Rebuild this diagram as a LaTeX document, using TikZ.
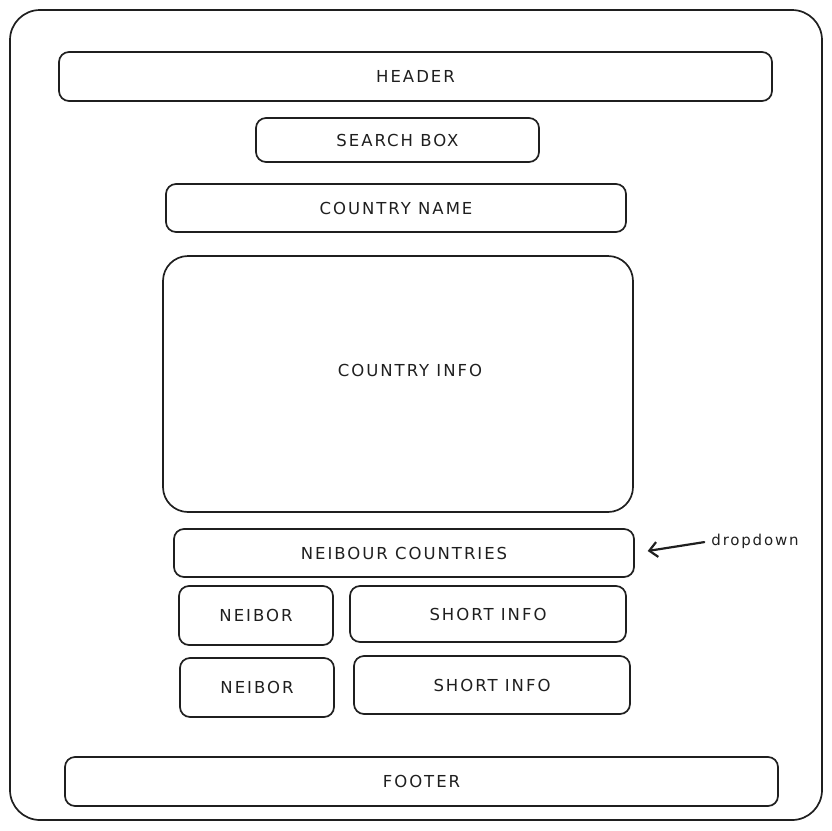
\documentclass[tikz,border=0pt]{standalone}
\usepackage{fontspec}
\setmainfont{DejaVu Sans}[LetterSpace=12]
\usetikzlibrary{arrows.meta,calc}
\begin{document}
\begin{tikzpicture}[x=1pt,y=-1pt,
  box/.style={draw=black!88, line width=1.7pt, rounded corners=10pt, inner sep=0pt,
    font=\fontsize{16.5}{18}\selectfont, text=black!88},
  lbl/.style={font=\fontsize{16.5}{18}\selectfont, text=black!88, inner sep=0pt},
  pointer/.style={draw=black!88, line width=2.2pt, line cap=round,
    -{Straight Barb[length=8pt,width=15pt,line width=2.2pt]}}]
\useasboundingbox (0,0) rectangle (832,830);
\node[box, rounded corners=30pt, minimum width=812pt, minimum height=810pt] (frame) at (416,415) {};
\node[box, minimum width=713pt, minimum height=49pt] (header) at (415.5,76.5) {HEADER};
\node[box, minimum width=283pt, minimum height=44pt] (search) at (397.5,140) {SEARCH BOX};
\node[box, minimum width=460pt, minimum height=48pt] (cname) at (396,208) {COUNTRY NAME};
\node[box, rounded corners=25pt, minimum width=470pt, minimum height=256pt] (cinfo) at (398,384) {};
\node[lbl] (cinfotext) at ($(cinfo.center)+(12,-14)$) {COUNTRY INFO};
\node[box, minimum width=460pt, minimum height=48pt] (neib) at (404,553) {NEIBOUR COUNTRIES};
\node[box, minimum width=154pt, minimum height=59pt] (n1) at (256,615.5) {NEIBOR};
\node[box, minimum width=276pt, minimum height=56pt] (s1) at (488,614) {SHORT INFO};
\node[box, minimum width=154pt, minimum height=59pt] (n2) at (257,687.5) {NEIBOR};
\node[box, minimum width=276pt, minimum height=58pt] (s2) at (492,685) {SHORT INFO};
\node[box, minimum width=713pt, minimum height=49pt] (footer) at (421.5,781.5) {FOOTER};
\node[font=\fontsize{15}{16}\selectfont, text=black!88, inner sep=0pt] (dd) at (755,541) {dropdown};
\draw[pointer, shorten <=7pt, shorten >=13pt] (dd.west) -- (neib.east);
\end{tikzpicture}
\end{document}
